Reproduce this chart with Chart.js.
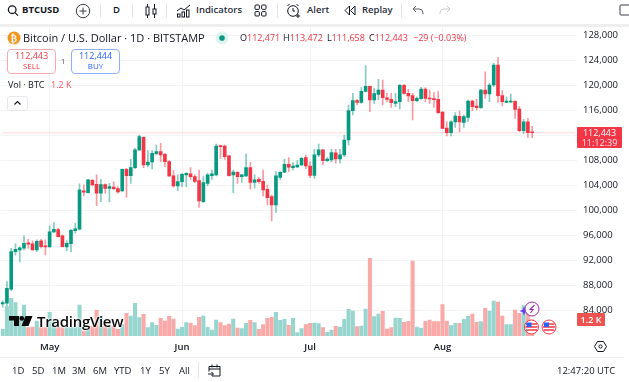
<!DOCTYPE html>
<html>
<head>
<meta charset="utf-8">
<title>BTCUSD</title>
<script src="https://cdn.jsdelivr.net/npm/chart.js@4"></script>
<style>
  html, body { margin: 0; padding: 0; background: #fff; }
  #page { position: relative; width: 629px; height: 382px; overflow: hidden; background: #fff;
          font-family: "Open Sans", sans-serif; color: #131722; }
  #page div, #page span.t { position: absolute; white-space: nowrap; }
  #page svg { position: absolute; }
  canvas { position: absolute; left: 0; top: 27px; }
  .bar { font-size: 9.5px; line-height: 14px; top: 3px; }
  .sep { width: 1px; background: #e6e6e6; }
  .red { color: #f23645; }
  .ohlc { top: 31px; font-size: 9px; line-height: 14px; }
  .range { font-size: 9.5px; top: 364px; line-height: 14px; }
</style>
</head>
<body>
<div id="page">
  <!-- top toolbar -->
  <svg style="left:7px;top:4px" width="12" height="13" fill="none" stroke="#131722" stroke-width="1.3"><circle cx="5.2" cy="5.7" r="3.8"/><path d="M8 8.6l3 3"/></svg>
  <div class="bar" style="left:22px;font-weight:700;font-size:9.5px">BTCUSD</div>
  <svg style="left:75px;top:3px" width="16" height="16" fill="none" stroke="#3a3e48" stroke-width="1"><circle cx="8" cy="8" r="6.7"/><path d="M8 4.5v7M4.5 8h7"/></svg>
  <div class="sep" style="left:100px;top:3px;height:15px"></div>
  <div class="bar" style="left:113px;font-weight:600">D</div>
  <div class="sep" style="left:132px;top:3px;height:15px"></div>
  <svg style="left:144px;top:3px" width="14" height="16" fill="none" stroke="#131722" stroke-width="1"><path d="M3.5 1v14M10.5 1v14"/><rect x="2" y="4" width="3" height="8" fill="#fff"/><rect x="9" y="6" width="3" height="5" fill="#fff"/></svg>
  <div class="sep" style="left:166px;top:3px;height:15px"></div>
  <svg style="left:176px;top:3px" width="15" height="15" fill="none" stroke="#131722" stroke-width="1"><path d="M1 8l4-3 3 2 6-5"/><rect x="1.5" y="11" width="2.5" height="3"/><rect x="6" y="9" width="2.5" height="5"/><rect x="10.5" y="7" width="2.5" height="7"/></svg>
  <div class="bar" style="left:196px;font-weight:600;color:#2a2e39">Indicators</div>
  <svg style="left:254px;top:4px" width="13" height="13" fill="none" stroke="#131722" stroke-width="1"><rect x="1" y="1" width="4.4" height="4.4" rx="1"/><rect x="7.6" y="1" width="4.4" height="4.4" rx="1"/><rect x="1" y="7.6" width="4.4" height="4.4" rx="1"/><rect x="7.6" y="7.6" width="4.4" height="4.4" rx="1"/></svg>
  <div class="sep" style="left:277px;top:3px;height:15px"></div>
  <svg style="left:286px;top:3px" width="16" height="16" fill="none" stroke="#131722" stroke-width="1"><circle cx="7" cy="8" r="5.3"/><path d="M7 5v3h2M1.5 3l2-2M12.5 3l-2-2M12 11v4M10 13h4"/></svg>
  <div class="bar" style="left:307px;font-weight:600;color:#2a2e39">Alert</div>
  <svg style="left:344px;top:5px" width="12" height="11" fill="none" stroke="#131722" stroke-width="1"><path d="M5.5 1L1 5.5 5.5 10zM11 1L6.500 5.500 11 10z"/></svg>
  <div class="bar" style="left:362px;font-weight:600;color:#2a2e39">Replay</div>
  <div class="sep" style="left:401px;top:3px;height:15px"></div>
  <svg style="left:412px;top:5px" width="12" height="11" fill="none" stroke="#5d606b" stroke-width="1"><path d="M4 1L1 4l3 3M1 4h6a4 4 0 0 1 4 4v1"/></svg>
  <svg style="left:439px;top:5px" width="12" height="11" fill="none" stroke="#c9cbd1" stroke-width="1"><path d="M8 1l3 3-3 3M11 4H5a4 4 0 0 0-4 4v1"/></svg>
  <svg style="left:619px;top:4px" width="10" height="13" fill="none" stroke="#3a3e48" stroke-width="1"><rect x="1" y="1" width="14" height="10" rx="1"/></svg>
  <div style="left:0;top:24px;width:629px;height:3px;background:#eeeeee"></div>

  <canvas id="chart" width="624" height="330"></canvas>

  <!-- symbol header -->
  <svg style="left:7px;top:31px" width="14" height="14"><circle cx="7" cy="7" r="6.5" fill="#f7931a"/><text x="7" y="10.500" font-size="9.500" font-weight="700" fill="#fff" text-anchor="middle" font-family="Open Sans">&#8383;</text></svg>
  <div style="left:23px;top:30px;font-size:11px;line-height:16px">Bitcoin / U.S. Dollar · 1D · BITSTAMP</div>
  <svg style="left:215px;top:31px" width="14" height="14"><circle cx="7" cy="7" r="6.500" fill="#dff3ef"/><circle cx="7" cy="7" r="2.800" fill="#089981"/></svg>
  <div class="ohlc" style="left:240px">O<span class="red">112,471</span></div>
  <div class="ohlc" style="left:283px">H<span class="red">113,472</span></div>
  <div class="ohlc" style="left:327px">L<span class="red">111,658</span></div>
  <div class="ohlc" style="left:369px">C<span class="red">112,443</span></div>
  <div class="ohlc red" style="left:413px">−29 (−0.03%)</div>

  <div style="left:7px;top:49px;width:47px;height:23px;border:1px solid #f7a9af;border-radius:4px;background:#fff"></div>
  <div class="red" style="left:7px;top:50px;width:49px;text-align:center;font-size:9px;line-height:12px">112,443</div>
  <div class="red" style="left:7px;top:60px;width:49px;text-align:center;font-size:8px;line-height:12px">SELL</div>
  <div style="left:61px;top:55px;font-size:7.5px;line-height:12px;color:#50535e">1</div>
  <div style="left:71px;top:49px;width:47px;height:23px;border:1px solid #8fb0f8;border-radius:4px;background:#fff"></div>
  <div style="left:71px;top:50px;width:49px;text-align:center;font-size:9px;line-height:12px;color:#2962ff">112,444</div>
  <div style="left:71px;top:60px;width:49px;text-align:center;font-size:8px;line-height:12px;color:#2962ff">BUY</div>
  <div style="left:8px;top:78px;font-size:9px;line-height:14px">Vol · BTC</div>
  <div style="left:51px;top:78px;font-size:9px;line-height:14px;color:#f7525f">1.2 K</div>
  <div style="left:7px;top:96px;width:19px;height:13px;border:1px solid #e8e8ea;border-radius:3px;background:#fff"></div>
  <svg style="left:13px;top:100px" width="9" height="6" fill="none" stroke="#131722" stroke-width="1.1"><path d="M1.500 4.500L4.500 1.500 7.500 4.500"/></svg>

  <!-- last price and volume tags -->
  <div style="left:577px;top:127px;width:45px;height:21px;background:#f23645;border-radius:1px"></div>
  <div style="left:577px;top:127px;width:45px;text-align:center;color:#fff;font-size:9px;line-height:12px">112,443</div>
  <div style="left:577px;top:137px;width:45px;text-align:center;color:#fde3e5;font-size:9px;line-height:12px">11:12:39</div>
  <div style="left:577px;top:313px;width:28px;height:13px;background:#ef5350;border-radius:1px"></div>
  <div style="left:577px;top:313px;width:28px;text-align:center;color:#fff;font-size:9px;line-height:13px;font-weight:600">1.2 K</div>

  <!-- watermark -->
  <svg style="left:9px;top:315px" width="24" height="13"><path d="M0 1h10v10H5V5.500H0zM12.500 11L16.500 1H23.500L19.500 11z" fill="#0a0a0a"/><circle cx="12.800" cy="3.400" r="2.300" fill="#0a0a0a"/></svg>
  <div style="left:37px;top:311px;font-size:15px;line-height:20px;font-weight:600;color:#0a0a0a;letter-spacing:-.3px;text-shadow:0 0 2px #fff,0 0 2px #fff,0 0 3px #fff">TradingView</div>

  <!-- event markers -->
  <svg style="left:518px;top:300px" width="40" height="36">
    <path d="M6 6.500l1.300 3.200 3.200 1.300-3.200 1.300-1.300 3.200-1.300-3.200-3.200-1.300 3.200-1.300z" fill="#6a3df0"/>
    <circle cx="14" cy="9" r="7" fill="#fff" stroke="#9c27b0" stroke-width="1"/>
    <path d="M16.500 5l-4.500 4.500h3l-2.500 3.500" fill="none" stroke="#9c27b0" stroke-width="1.100"/>
    <g id="flag1"><circle cx="13.500" cy="27" r="7" fill="#fff" stroke="#f23645" stroke-width="1"/><path d="M8 24h11M7.500 27h12M8 30h11" stroke="#f23645" stroke-width="1.400"/><rect x="8.500" y="22.500" width="5" height="4.500" fill="#2962ff"/></g>
    <g><circle cx="31" cy="27" r="7" fill="#fff" stroke="#f23645" stroke-width="1"/><path d="M25.500 24h11M25 27h12M25.500 30h11" stroke="#f23645" stroke-width="1.400"/><rect x="26" y="22.500" width="5" height="4.500" fill="#2962ff"/></g>
  </svg>

  <!-- bottom toolbar -->
  <div style="left:0;top:357px;width:624px;height:1px;background:#ececec"></div>
  <svg style="left:594px;top:340px" width="13" height="13" fill="none" stroke="#131722" stroke-width="1"><path d="M3.500 1.500h6l3 5-3 5h-6l-3-5z"/><circle cx="6.500" cy="6.500" r="1.600"/></svg>
  <div class="range" style="left:12px">1D</div>
  <div class="range" style="left:32px">5D</div>
  <div class="range" style="left:52px">1M</div>
  <div class="range" style="left:72px">3M</div>
  <div class="range" style="left:93px">6M</div>
  <div class="range" style="left:114px">YTD</div>
  <div class="range" style="left:140px">1Y</div>
  <div class="range" style="left:159px">5Y</div>
  <div class="range" style="left:179px">All</div>
  <div class="sep" style="left:198px;top:362px;height:16px"></div>
  <svg style="left:207px;top:363px" width="15" height="14" fill="none" stroke="#131722" stroke-width="1"><path d="M2 3.500h11v9.500H5M2 3.500v5M2 6h11M5 1.500v3M10 1.500v3M1 11h5M4.500 9l2 2-2 2"/></svg>
  <div class="range" style="left:557px">12:47:20 UTC</div>
</div>

<script>
const opens = [85000, 85100, 87350, 93390, 93660, 93930, 94780, 94620, 93660, 95100, 94300, 94140, 96550, 96920, 95900, 94140, 94670, 96760, 96970, 103120, 102850, 104830, 104190, 102750, 104140, 103500, 103750, 103490, 103110, 106590, 105570, 106850, 109690, 111720, 107280, 107760, 109100, 109420, 108990, 107820, 105520, 103910, 104610, 105680, 105840, 105410, 104770, 101400, 104340, 105570, 105680, 110330, 110330, 108730, 105680, 106110, 105410, 105520, 106850, 104500, 104980, 104660, 103380, 102200, 100870, 105300, 106110, 107390, 106850, 106960, 107280, 108460, 107120, 105620, 108890, 109690, 107980, 108080, 109210, 108240, 108890, 111280, 115990, 117590, 117330, 119090, 119890, 117700, 118610, 119300, 118070, 117810, 117170, 117430, 120050, 118770, 118400, 117590, 117910, 119460, 118020, 117860, 117810, 115780, 113210, 112460, 114170, 115080, 114120, 114920, 117540, 116740, 116470, 119300, 118660, 120110, 123310, 118400, 117330, 117380, 117490, 116260, 112780, 114220, 112471]
const highs = [85480, 88580, 93930, 94620, 94190, 95900, 95370, 95100, 95260, 95370, 95260, 97510, 98040, 97130, 96060, 95150, 96970, 97940, 104240, 104080, 104990, 104990, 105690, 104990, 104240, 104350, 104560, 103810, 106640, 106750, 108190, 109960, 112090, 111800, 109580, 109580, 110490, 110760, 109150, 107980, 106370, 105680, 105950, 106050, 106850, 105680, 106480, 105410, 105950, 106480, 110650, 110490, 110490, 108780, 106480, 106210, 105780, 109050, 107710, 105680, 105300, 106480, 104070, 102470, 106210, 106210, 108190, 108460, 107660, 107980, 108510, 108890, 107820, 109800, 110650, 109800, 108460, 109800, 109800, 109800, 112090, 116900, 118770, 117810, 119680, 123210, 119950, 119570, 121020, 120910, 118770, 118770, 118770, 120210, 120210, 119410, 118770, 118230, 119730, 119680, 119300, 118880, 119040, 115830, 114220, 114380, 115670, 115940, 115290, 117700, 117700, 117810, 119410, 122240, 120370, 123580, 124540, 119200, 118230, 118660, 117590, 116630, 114600, 114760, 113472]
const lows = [84460, 84670, 87130, 92860, 91730, 93660, 93930, 93600, 93390, 93930, 92860, 94090, 96440, 95740, 94090, 93500, 93390, 96330, 96870, 102320, 102750, 103920, 100770, 101410, 102750, 101410, 103270, 102740, 103050, 102100, 104340, 106700, 109580, 106850, 107010, 106640, 108890, 107820, 107010, 105410, 103700, 103160, 103810, 103810, 104980, 104450, 100490, 101240, 103970, 104980, 105520, 108350, 108190, 105500, 102840, 104340, 104500, 105410, 103380, 103540, 104340, 102310, 100870, 98300, 99690, 104980, 106050, 106210, 106480, 106850, 107180, 106690, 105250, 105140, 108620, 107280, 107820, 107820, 107550, 107550, 108620, 110480, 115290, 116900, 117170, 118980, 115830, 117170, 117700, 116900, 117430, 116520, 116630, 116260, 118610, 117430, 114490, 117430, 117810, 117430, 117170, 116520, 115560, 113050, 111930, 111930, 113320, 112620, 113320, 114220, 115990, 116100, 116360, 117970, 117430, 119840, 117330, 116740, 117270, 117270, 114760, 112620, 112350, 111710, 111658]
const closes = [85210, 87510, 93390, 93760, 93980, 94730, 94570, 93660, 95050, 94190, 94140, 96550, 96970, 95800, 94190, 94730, 96810, 97030, 103280, 102910, 104890, 104080, 102750, 104140, 103500, 103820, 103490, 102950, 106590, 105570, 106850, 109690, 111830, 107280, 107760, 109150, 109420, 108890, 107820, 105520, 103910, 104610, 105780, 105950, 105410, 104660, 101510, 104450, 105680, 105840, 110330, 110220, 108620, 105570, 106160, 105410, 105680, 106850, 104500, 104880, 104610, 103270, 102040, 100870, 105520, 106110, 107390, 106910, 107120, 107280, 108350, 107120, 105620, 108890, 109690, 107980, 108240, 109260, 108240, 108890, 111290, 115990, 117590, 117330, 119090, 119890, 117700, 118720, 119300, 118070, 117810, 117270, 117430, 120050, 118770, 118340, 117590, 117970, 119460, 117970, 117860, 117750, 115670, 113160, 112460, 114220, 115130, 114170, 115030, 117540, 116630, 116470, 119300, 118660, 120110, 123310, 118400, 117430, 117540, 117540, 116200, 112780, 114220, 112460, 112443]
const volumes = [500, 2200, 2825, 2500, 1500, 2325, 625, 675, 1125, 625, 625, 1775, 1125, 675, 625, 625, 625, 625, 2325, 375, 625, 750, 1925, 1500, 750, 750, 750, 500, 875, 1700, 1500, 2450, 1375, 1625, 625, 1000, 800, 1325, 1125, 1475, 1275, 525, 650, 1000, 975, 775, 1400, 1500, 650, 450, 1200, 1000, 775, 900, 1275, 600, 550, 950, 1175, 1000, 500, 850, 1325, 1400, 1775, 1175, 1250, 800, 1325, 250, 550, 850, 950, 975, 925, 625, 275, 450, 725, 675, 1250, 2000, 1875, 700, 750, 2025, 5825, 1450, 1650, 1850, 525, 625, 1350, 1325, 1025, 1100, 5625, 675, 600, 1100, 1200, 1075, 1075, 2350, 1125, 775, 950, 950, 1250, 1475, 1650, 1025, 1075, 2075, 1875, 2625, 2550, 1500, 850, 850, 1950, 1700, 2275, 1950, 1200]

const priceTicks = [128000, 124000, 120000, 116000, 112000, 108000, 104000, 100000, 96000, 92000, 88000, 84000]
const monthTicks = [11, 42, 72, 103] // candle index of the 1st of the month
const monthNames = ['May', 'Jun', 'Jul', 'Aug']
const lastPrice = 112443
const startDay = Date.UTC(2025, 3, 20)

// blank room right of the last candle, same as the TV chart
const emptyDays = 10
const labels = []
for (let i = 0; i < opens.length + emptyDays; i++) {
    labels.push(new Date(startDay + i * 86400000).toISOString().slice(0, 10))
}

const upColor = '#089981'
const downColor = '#f23645'
const isUp = opens.map((o, i) => closes[i] >= o)

new Chart(document.getElementById('chart'), {
    data: {
        labels: labels,
        datasets: [{
            type: 'line',
            data: labels.map(() => lastPrice),
            borderColor: 'rgba(242,54,69,0.13)',
            borderWidth: 1.5,
            pointRadius: 0,
            order: 4
        }, {
            type: 'bar',
            yAxisID: 'vol',
            data: volumes,
            backgroundColor: isUp.map(up => up ? '#97d5cf' : '#f9a9a8'),
            barThickness: 3.4,
            grouped: false,
            order: 3
        }, {
            type: 'bar',
            data: lows.map((l, i) => [l, highs[i]]),
            backgroundColor: isUp.map(up => up ? 'rgba(8,153,129,0.5)' : 'rgba(242,54,69,0.5)'),
            barThickness: 1,
            grouped: false,
            order: 2
        }, {
            type: 'bar',
            data: opens.map((o, i) => [o, closes[i]]),
            backgroundColor: isUp.map(up => up ? upColor : downColor),
            barThickness: 3,
            minBarLength: 1,
            grouped: false,
            order: 1
        }]
    },
    options: {
        responsive: false,
        animation: false,
        layout: { padding: { left: 0.53, right: 0, top: 0, bottom: 0 } },
        plugins: { legend: { display: false }, tooltip: { enabled: false } },
        scales: {
            x: {
                type: 'category',
                offset: true,
                afterBuildTicks: axis => { axis.ticks = monthTicks.map(v => ({ value: v })) },
                afterFit: axis => { axis.height = 21; axis.paddingLeft = 0; axis.paddingRight = 0 },
                grid: { offset: false, color: '#f3f3f4', drawTicks: false },
                border: { display: false },
                ticks: {
                    autoSkip: false,
                    maxRotation: 0,
                    padding: 6,
                    color: '#131722',
                    font: { family: 'Open Sans', size: 9.5, weight: '600' },
                    callback: (value, index) => monthNames[index]
                }
            },
            y: {
                position: 'right',
                min: 79848,
                max: 129411,
                afterBuildTicks: axis => { axis.ticks = priceTicks.map(v => ({ value: v })) },
                afterFit: axis => { axis.width = 47; axis.paddingTop = 0; axis.paddingBottom = 0 },
                grid: { color: '#f3f3f4', drawTicks: false },
                border: { display: false },
                ticks: {
                    padding: 6,
                    color: '#131722',
                    font: { family: 'Open Sans', size: 9.5 },
                    // 112,000 is hidden behind the last price tag
                    callback: value => value === 112000 ? '' : value.toLocaleString('en-US')
                }
            },
            vol: {
                display: false,
                min: 0,
                max: 23175
            }
        }
    }
})
</script>
</body>
</html>
